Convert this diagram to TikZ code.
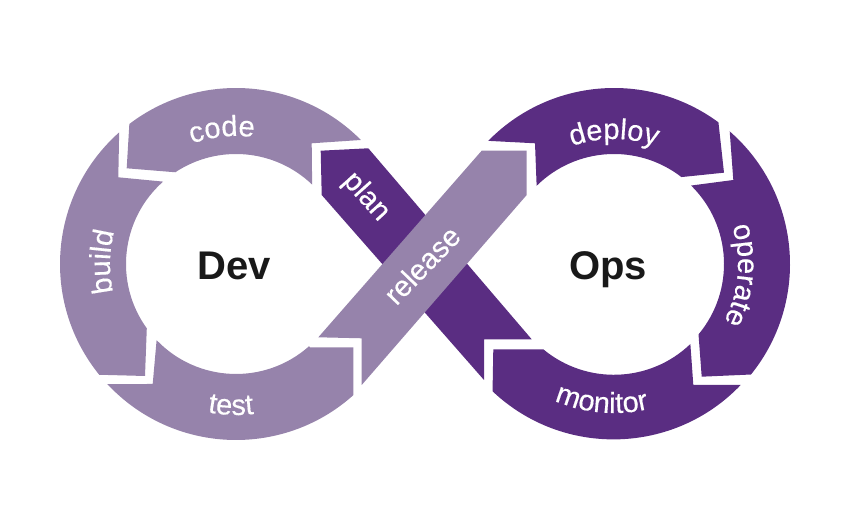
\documentclass[tikz,border=0pt]{standalone}
\usepackage{fontspec}
\setmainfont{Liberation Sans}
\newfontfamily\labfont[FakeBold=0.35]{Liberation Sans}
\usetikzlibrary{calc,decorations.text}
\definecolor{lightp}{HTML}{9683AB}
\definecolor{darkp}{HTML}{5A2D82}
\newcommand{\lab}{\labfont\fontsize{29}{29}\selectfont\color{white}}
\tikzset{
  x=1pt,y=1pt,
  lightseg/.style={fill=lightp,draw=none},
  darkseg/.style={fill=darkp,draw=none},
  curvedlabel/.style={decorate,decoration={text along path,text align=center,text={|\lab|#1}}},
  straightlabel/.style={text=white,font=\lab,inner sep=0pt},
  hub/.style={text=black!90,font=\fontsize{40}{40}\selectfont\bfseries,inner sep=0pt,anchor=base},
}
\begin{document}
\begin{tikzpicture}
\useasboundingbox (0,0) rectangle (850,510);
\coordinate (L) at (236,246);
\coordinate (R) at (614,246);
% dark ribbon "plan"
\fill[darkseg] (320.7,359.3) -- (368.3,361.7) -- (531.7,170.7) -- (484,170.7) -- (484,130) -- (321.7,315) -- cycle;
% code
\fill[lightseg] ($(L)+(127.3:176pt)$) arc[start angle=127.3,end angle=44.8,radius=176pt]
  -- (311.7,366.7) -- ($(L)+(46.2:110pt)$) arc[start angle=46.2,end angle=123.5,radius=110pt]
  -- (126.7,341.7) -- cycle;
% build
\fill[lightseg] ($(L)+(131.6:176pt)$) arc[start angle=131.6,end angle=219,radius=176pt]
  -- (145,134) -- ($(L)+(215.8:110pt)$) arc[start angle=215.8,end angle=131.5,radius=110pt]
  -- (118.3,332.7) -- cycle;
% test
\fill[lightseg] ($(L)+(223:176pt)$) arc[start angle=223,end angle=311.8,radius=176pt]
  -- (353.3,162.7) -- (310,162.7) -- ($(L)+(311.6:110pt)$) arc[start angle=311.6,end angle=223.8,radius=110pt]
  -- (152.7,126) -- cycle;
% release ribbon
\fill[lightseg] (481.7,359.3) -- (526.7,359.3) -- (526.7,315) -- (361.7,125) -- (361.7,171.7) -- (318.3,172.7) -- cycle;
% deploy
\fill[darkseg] ($(R)+(135.6:176pt)$) arc[start angle=135.6,end angle=53.6,radius=176pt]
  -- (724,337.3) -- ($(R)+(52.2:110pt)$) arc[start angle=52.2,end angle=134.7,radius=110pt]
  -- (535,366.7) -- cycle;
% operate
\fill[darkseg] ($(R)+(48.9:176pt)$) arc[start angle=48.9,end angle=-38.9,radius=176pt]
  -- (701.7,133.3) -- ($(R)+(-39.8:110pt)$) arc[start angle=-39.8,end angle=45.5,radius=110pt]
  -- (733.3,330) -- cycle;
% monitor
\fill[darkseg] (493.3,160.7) -- (543.3,160.7) arc[start angle=230.3,end angle=313.8,radius=110.5pt]
  -- (693.3,125) -- (740.7,125) arc[start angle=316.3,end angle=226.6,radius=176pt] -- cycle;
% curved labels
\path[curvedlabel={code}] ($(L)+(136:128pt)$) arc[start angle=136,end angle=56,radius=128pt];
\path[curvedlabel={build}] ($(L)+(224:126pt)$) arc[start angle=224,end angle=134,radius=126pt];
\path[curvedlabel={test}] ($(L)+(228:151pt)$) arc[start angle=228,end angle=308,radius=151pt];
\path[curvedlabel={deploy}] ($(R)+(135:125pt)$) arc[start angle=135,end angle=45,radius=125pt];
\path[curvedlabel={operate}] ($(R)+(40:124pt)$) arc[start angle=40,end angle=-50,radius=124pt];
\path[curvedlabel={monitor}] ($(R)+(220:149pt)$) arc[start angle=220,end angle=310,radius=149pt];
% straight labels
\node[straightlabel,rotate=-48] (plan) at (366,313) {plan};
\node[straightlabel,rotate=46] (release) at (422,245) {release};
\node[hub] (dev) at (234,230) {Dev};
\node[hub] (ops) at (608,230) {Ops};
\end{tikzpicture}
\end{document}
